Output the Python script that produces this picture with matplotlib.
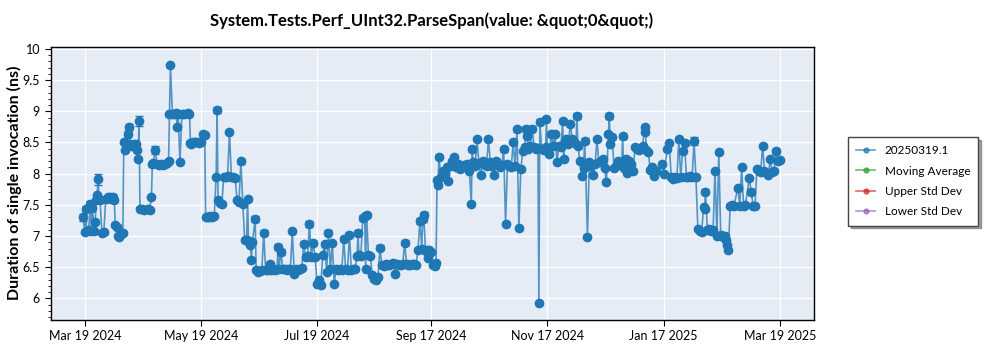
import matplotlib
matplotlib.use("Agg")
import matplotlib.pyplot as plt
import matplotlib.dates as mdates
from matplotlib.lines import Line2D
from matplotlib.ticker import MultipleLocator
import pandas as pd

plt.rcParams['font.family'] = ['Lato', 'DejaVu Sans']

title = 'System.Tests.Perf_UInt32.ParseSpan(value: &quot;0&quot;)'
run_label = '20250319.1'
base_date = '2024-03-19'

# days after base_date for each run
day_offset = [
    -1, 0, 0.5, 1, 2, 3, 3.5, 4, 5, 5.5,
    6, 6.5, 7, 7.5, 8, 9, 10, 11, 12, 13,
    14, 15, 15.5, 16, 17, 17.5, 18, 19, 20, 20.5,
    21, 22, 22.5, 23, 24, 25, 26, 27, 27.5, 28,
    28.5, 29, 30, 31, 33, 34, 35, 35.5, 36, 37,
    38, 39, 40, 41, 42, 43, 44, 44.5, 45, 46,
    47, 48, 48.5, 49, 50, 51, 52, 54, 55, 55.5,
    56, 57, 58, 59, 60, 61, 62, 63, 63.5, 64,
    65, 66, 67, 68, 69, 69.5, 70, 71, 72, 73,
    74, 75, 76, 77, 78, 79, 80, 81, 82, 83,
    84,
    85, 85.5, 86, 87, 87.5, 88, 89.5, 90, 91, 92,
    93, 94, 95, 96, 97, 97.5, 98, 99, 100, 101,
    101.5, 102, 103, 104, 105, 106, 107, 108, 109, 110,
    111, 112, 113, 114, 115, 116, 117, 118, 119, 120,
    121, 122, 123, 124, 125, 126, 127, 128, 129, 130,
    131, 132, 133, 134, 135, 136, 137, 138, 139, 140,
    141, 142, 143, 143.5, 144, 145, 146, 147, 147.5, 148,
    149, 150, 151, 152, 153, 154, 155, 156, 157, 158,
    159, 160, 161, 162, 163, 164, 165, 166, 167, 168,
    169, 170, 171, 172, 173, 174, 175, 176, 177, 177.5,
    178, 179, 180, 180.5, 181, 182, 183, 184, 184.5,
    185, 185.5, 186, 187, 188, 189, 190, 191, 192, 193,
    194, 195, 196, 197, 198, 199, 200, 201, 202, 203,
    203.5, 204, 205, 206, 207, 208, 209, 210, 211, 212,
    213, 214, 215, 216, 217, 218, 219, 220, 221, 222,
    223, 224, 225, 226, 227, 228, 229, 230, 231, 232,
    232.5, 233, 234, 235, 236, 237, 238, 238.5, 239, 240,
    241, 242, 242.5, 243, 244, 245, 246, 247, 248, 249,
    250, 251, 251.5, 252, 253, 254, 255, 256, 257, 258,
    258.5, 259, 260, 261, 262, 262.5, 263, 264, 265, 266,
    267, 268, 269, 270, 271,
    272, 273, 274, 275, 275.5, 276, 277, 278, 279, 280,
    281, 282, 282.5, 283, 284, 285, 286, 287, 288, 289,
    290, 291, 293, 294, 294.5, 295, 296, 297, 298, 299,
    300, 303, 304, 306, 307, 308, 309, 310, 311, 312,
    313, 314, 315, 316, 317, 318, 319, 320, 321, 322,
    323, 324, 325, 325.5, 326, 327, 328, 329, 330, 331,
    332, 333, 334, 335, 336, 337, 337.5, 338, 339, 340,
    341, 343, 344, 345, 346, 347, 349, 350, 351, 352,
    353, 354, 355, 356, 357, 359, 360, 361, 362, 363,
    364, 365,
]

duration_ns = [
    7.30, 7.07, 7.44, 7.08, 7.09, 7.52, 7.08, 7.45, 7.08, 7.23,
    7.58, 7.66, 7.91, 7.60, 7.58, 7.05, 7.06, 7.60, 7.63, 7.62,
    7.60, 7.62, 7.58, 7.18, 7.15, 7.00, 6.99, 7.03, 7.05, 8.50,
    8.38, 8.48, 8.63, 8.75, 8.47, 8.45, 8.48, 8.47, 8.38, 8.24,
    8.84, 7.43, 7.43, 7.42, 7.43, 7.42, 7.62, 8.15, 8.17, 8.38,
    8.15, 8.14, 8.15, 8.14, 8.15, 8.17, 8.20, 8.95, 9.74, 8.96,
    8.96, 8.97, 8.74, 8.96, 8.19, 8.95, 8.96, 8.97, 8.96, 8.49,
    8.47, 8.50, 8.51, 8.50, 8.49, 8.50, 8.63, 8.62, 7.30, 7.31,
    7.30, 7.32, 7.31, 7.32, 7.95, 9.02, 7.58, 7.53, 7.52, 7.95,
    7.94, 7.96, 8.67, 7.94, 7.95, 7.93, 7.58, 7.55, 8.20, 7.52,
    6.93,
    6.94, 7.59, 6.92, 6.86, 6.62, 6.90, 7.27, 6.45, 6.43, 6.44,
    6.46, 7.05, 6.45, 6.46, 6.47, 6.56, 6.46, 6.47, 6.45, 6.48,
    6.82, 6.47, 6.74, 6.48, 6.47, 6.46, 6.47, 6.48, 7.08, 6.40,
    6.47, 6.46, 6.48, 6.49, 6.88, 6.66, 6.68, 7.19, 6.67, 6.89,
    6.66, 6.24, 6.30, 6.22, 6.70, 6.87, 6.43, 7.05, 6.47, 6.89,
    6.24, 6.48, 6.46, 6.47, 6.45, 6.96, 6.47, 6.45, 7.02, 6.46,
    6.47, 6.48, 6.68, 7.05, 6.70, 6.68, 7.29, 7.32, 6.48, 7.33,
    6.70, 6.68, 6.38, 6.32, 6.30, 6.34, 6.81, 6.54, 6.52, 6.56,
    6.54, 6.53, 6.55, 6.57, 6.40, 6.55, 6.54, 6.53, 6.56, 6.89,
    6.55, 6.54, 6.53, 6.56, 6.55, 6.54, 6.78, 7.24, 6.80, 7.27,
    7.34, 6.76, 6.78, 6.65, 6.77, 6.74, 6.54, 6.52, 6.57,
    7.90, 7.82, 8.27, 7.95, 8.05, 8.00, 8.10, 7.88, 8.12, 8.20,
    8.27, 8.10, 8.15, 8.08, 8.12, 8.14, 8.10, 8.16, 8.05, 7.52,
    8.39, 8.18, 8.12, 8.55, 8.17, 7.98, 8.20, 8.14, 8.12, 8.55,
    8.18, 8.12, 7.98, 8.20, 8.16, 8.10, 8.14, 8.39, 7.20, 8.15,
    8.12, 8.10, 8.50, 8.12, 8.71, 7.13, 8.07, 8.36, 8.42, 8.72,
    8.61, 8.40, 8.44, 8.72, 8.42, 8.40, 8.41, 5.92, 8.83, 8.40,
    8.38, 8.42, 8.87, 8.40, 8.31, 8.64, 8.45, 8.64, 8.18, 8.45,
    8.42, 8.85, 8.23, 8.50, 8.55, 8.48, 8.80, 8.55, 8.50, 8.48,
    8.93, 8.45, 8.20, 7.96, 8.09, 8.53, 8.15, 6.99, 8.18, 8.12,
    7.98, 8.15, 8.55, 8.18, 8.20,
    8.23, 8.09, 7.86, 8.63, 8.92, 8.47, 8.58, 8.09, 8.12, 8.20,
    8.18, 8.16, 8.60, 8.09, 8.24, 8.01, 8.20, 8.15, 8.04, 8.42,
    8.40, 8.38, 8.45, 8.75, 8.66, 8.38, 8.35, 8.06, 8.10, 7.96,
    8.05, 8.15, 8.00, 8.39, 8.49, 7.94, 7.92, 7.95, 7.93, 8.55,
    7.94, 8.36, 8.49, 7.95, 7.94, 7.97, 7.95, 8.52, 7.94, 7.12,
    7.08, 7.06, 7.47, 7.44, 7.71, 7.10, 7.12, 7.08, 7.10, 8.05,
    7.00, 8.34, 7.02, 6.99, 7.00, 6.93, 6.85, 6.77, 7.48, 7.50,
    7.49, 7.77, 7.48, 8.11, 7.49, 7.50, 7.93, 7.71, 7.49, 7.48,
    8.08, 8.04, 8.02, 8.45, 8.05, 7.98, 8.23, 8.02, 8.05, 8.36,
    8.20, 8.22,
]

# std dev of runs that stand out; the rest use default_err
default_err = 0.02
spike_err = {
    -1: 0.06, 0.5: 0.04, 3: 0.04, 4: 0.04, 7: 0.09, 22.5: 0.05, 23: 0.05,
    28.5: 0.08, 37: 0.06, 69.5: 0.05, 82: 0.04, 89.5: 0.05, 94: 0.04,
    101.5: 0.05, 103: 0.05, 115: 0.04, 118: 0.05, 120: 0.05, 126: 0.04,
    128: 0.04, 136: 0.04, 139: 0.05, 143.5: 0.05, 146: 0.05, 147: 0.04,
    155: 0.04, 168: 0.04, 176: 0.05, 177.5: 0.04, 178: 0.04, 186: 0.03,
    194: 0.03, 203.5: 0.04, 206: 0.03, 212: 0.03, 220: 0.04, 225: 0.03,
    227: 0.04, 232: 0.04, 235: 0.04, 239: 0.04, 242.5: 0.03, 245: 0.03,
    247: 0.03, 251: 0.03, 255: 0.04, 258.5: 0.05, 262.5: 0.04, 269: 0.03,
    275.5: 0.05, 282.5: 0.04, 294: 0.03, 312: 0.04, 320: 0.06, 326: 0.04,
    343: 0.04, 350: 0.04, 356: 0.03, 363: 0.04,
}

tick_dates = ['2024-03-19', '2024-05-19', '2024-07-19', '2024-09-17',
              '2024-11-17', '2025-01-17', '2025-03-19']

legend_labels = [run_label, 'Moving Average', 'Upper Std Dev', 'Lower Std Dev']
legend_colors = ['#1f77b4', '#2ca02c', '#d62728', '#9467bd']

dates = pd.Timestamp(base_date) + pd.to_timedelta(day_offset, unit='D')
errs = [spike_err.get(d, default_err) for d in day_offset]

fig = plt.figure(figsize=(10, 3.5), dpi=100)
ax = fig.add_axes([0.0505, 0.086, 0.7635, 0.781])
ax.set_facecolor('#e5ecf6')

blue = '#1f77b4'
ax.plot(dates, duration_ns, color=blue, lw=1.2, alpha=0.75, zorder=2)
ax.errorbar(dates, duration_ns, yerr=errs, fmt='o', color=blue, ms=6,
            ecolor=blue, elinewidth=1, capsize=3, capthick=1, zorder=3)

ax.set_xlim(pd.Timestamp('2024-03-01'), pd.Timestamp('2025-04-06'))
ax.set_ylim(5.657, 10.037)
ax.yaxis.set_major_locator(MultipleLocator(0.5))
ax.yaxis.set_minor_locator(MultipleLocator(0.1))
ax.yaxis.set_major_formatter(plt.FuncFormatter(lambda v, p: f'{v:g}'))
ax.set_xticks(pd.to_datetime(tick_dates))
ax.xaxis.set_major_formatter(mdates.DateFormatter('%b %d %Y'))

ax.grid(True, color='white', lw=1)
ax.set_axisbelow(True)
for s in ax.spines.values():
    s.set_color('black')
    s.set_linewidth(1)
ax.tick_params(axis='both', labelsize=9, length=4, width=0.8)
ax.tick_params(axis='y', which='minor', length=2, width=0.6)

ax.set_ylabel('Duration of single invocation (ns)', fontsize=11.5,
              fontweight='bold')
ax.yaxis.set_label_coords(-0.037, 0.5)
fig.suptitle(title, x=0.432, y=0.965, fontsize=12, fontweight='bold')

handles = [Line2D([], [], color=c, lw=1.2, alpha=0.7, marker='o', ms=3.5,
                  markerfacecolor=c, markeredgecolor=c)
           for c in legend_colors]
leg = fig.legend(handles, legend_labels, loc='upper left',
                 bbox_to_anchor=(0.848, 0.609), borderaxespad=0,
                 fontsize=8.5, frameon=True, fancybox=False, shadow=True,
                 edgecolor='#444444', framealpha=1, handlelength=1.6,
                 borderpad=0.7, labelspacing=0.8)
leg.get_frame().set_linewidth(1)

fig.savefig('out.png', dpi=100)
